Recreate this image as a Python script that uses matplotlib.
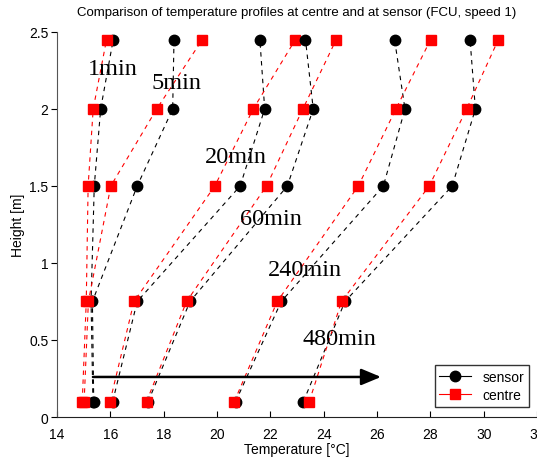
import matplotlib.pyplot as plt
from matplotlib.lines import Line2D

plt.rcParams['font.family'] = ['Liberation Sans', 'DejaVu Sans']

# alturas de medida [m]
heights = [0.1, 0.75, 1.5, 2.0, 2.45]

# tiempos
times = ['1min', '5min', '20min', '60min', '240min', '480min']

# temperaturas en el sensor (por tiempo, de abajo a arriba)
sensor = [
    [15.35, 15.28, 15.40, 15.64, 16.11],
    [15.38, 15.33, 17.01, 18.34, 18.39],
    [16.09, 17.01, 20.87, 21.79, 21.61],
    [17.42, 18.99, 22.64, 23.61, 23.32],
    [20.70, 22.41, 26.24, 27.05, 26.66],
    [23.24, 24.80, 28.82, 29.69, 29.49],
]

# temperaturas en el centro
centre = [
    [14.95, 15.10, 15.17, 15.36, 15.86],
    [15.02, 15.18, 16.02, 17.74, 19.45],
    [15.99, 16.89, 19.92, 21.36, 22.94],
    [17.36, 18.86, 21.86, 23.22, 24.47],
    [20.65, 22.26, 25.30, 26.71, 28.01],
    [23.46, 24.67, 27.96, 29.36, 30.55],
]

# posiciones de las etiquetas de tiempo (T, h)
label_x = [15.16, 17.56, 19.55, 20.86, 21.91, 23.22]
label_y = [2.26, 2.17, 1.69, 1.29, 0.96, 0.51]

fig = plt.figure(figsize=(5.37, 4.6), dpi=100)
ax = fig.add_axes([0.106, 0.0913, 0.894, 0.837])

for s, c in zip(sensor, centre):
    ax.plot(s, heights, color='black', linestyle=(0, (4, 4)), linewidth=0.8,
            marker='o', markersize=7.5, markerfacecolor='black', markeredgecolor='black')
    ax.plot(c, heights, color='red', linestyle=(0, (4, 4)), linewidth=0.8,
            marker='s', markersize=7, markerfacecolor='red', markeredgecolor='red')

for t, x, y in zip(times, label_x, label_y):
    ax.text(x, y, t, family=['Liberation Serif', 'DejaVu Serif'], fontsize=17.5,
            ha='left', va='center')

# flecha del tiempo
ax.annotate('', xy=(26.15, 0.26), xytext=(15.35, 0.26),
            arrowprops=dict(arrowstyle='-|>,head_length=1.2,head_width=0.5',
                            color='black', linewidth=1.8, shrinkA=0, shrinkB=0))

ax.set_xlim(14, 32)
ax.set_ylim(0, 2.5)
ax.set_xticks(range(14, 33, 2))
ax.set_yticks([0, 0.5, 1, 1.5, 2, 2.5])
ax.set_yticklabels(['0', '0.5', '1', '1.5', '2', '2.5'])
ax.spines['top'].set_visible(False)
ax.spines['right'].set_visible(False)
ax.spines['left'].set_color('#555555')
ax.spines['bottom'].set_color('#222222')
ax.tick_params(axis='x', direction='in', length=4, labelsize=10, pad=7)
ax.tick_params(axis='y', direction='out', length=4, labelsize=10, pad=2)

ax.set_title('Comparison of temperature profiles at centre and at sensor (FCU, speed 1)',
             fontsize=9.5, pad=12)
ax.set_xlabel('Temperature [°C]', fontsize=10, labelpad=1)
ax.set_ylabel('Height [m]', fontsize=10, labelpad=3)

handles = [
    Line2D([], [], color='black', marker='o', markersize=7.5, linewidth=0.8),
    Line2D([], [], color='red', marker='s', markersize=7, linewidth=0.8),
]
leg = ax.legend(handles, ['sensor', 'centre'], loc='lower right',
                bbox_to_anchor=(0.998, 0.008), fontsize=10, frameon=True,
                fancybox=False, edgecolor='black', handlelength=2.3,
                borderpad=0.35, labelspacing=0.3)
leg.get_frame().set_linewidth(1.0)

plt.savefig('out.png', dpi=100)
